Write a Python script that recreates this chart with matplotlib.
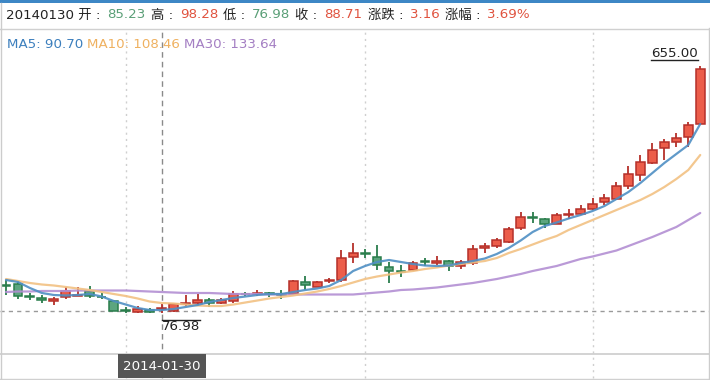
import matplotlib
matplotlib.use('Agg')
import matplotlib.pyplot as plt
from matplotlib.lines import Line2D
from matplotlib.patches import Rectangle
import numpy as np

plt.rcParams['font.family'] = ['DejaVu Sans', 'Noto Sans CJK SC']

# ---------------- data ----------------
opens = [143.67, 146.01, 116.76, 112.08, 105.06, 114.42, 117.93, 128.46, 115.59, 106.23,
         85.17, 80.49, 85.17, 85.23, 81.66, 98.04, 101.55, 108.57, 101.55, 106.23,
         122.61, 121.44, 124.95, 121.44, 121.44, 149.52, 138.99, 151.86, 154.20, 209.19,
         217.38, 209.19, 185.79, 175.26, 178.77, 197.96, 195.15, 199.83, 186.96, 193.98,
         230.25, 233.76, 244.29, 277.05, 302.79, 298.11, 286.41, 307.47, 309.81, 321.51,
         337.89, 344.91, 374.16, 399.90, 429.15, 464.25, 478.29, 488.82, 520.41]
closes = [141.33, 116.76, 114.42, 108.57, 109.74, 128.46, 120.27, 116.76, 114.42, 82.83,
          82.83, 87.51, 79.32, 88.71, 98.04, 101.55, 108.57, 101.55, 107.40, 122.61,
          121.44, 124.95, 121.44, 120.27, 151.86, 142.50, 149.52, 155.37, 205.68, 218.55,
          215.04, 189.30, 176.43, 172.92, 195.15, 196.32, 199.83, 186.96, 197.49, 227.91,
          233.76, 247.80, 273.54, 302.79, 300.45, 286.41, 306.30, 309.81, 321.51, 332.04,
          344.91, 375.33, 402.24, 431.49, 459.57, 478.29, 486.48, 515.73, 647.94]
highs = [154.20, 151.86, 123.78, 119.10, 114.42, 137.82, 137.82, 140.16, 123.78, 107.40,
         91.02, 93.36, 88.68, 98.28, 99.21, 119.10, 122.61, 112.08, 112.08, 128.46,
         127.29, 130.80, 126.12, 130.80, 155.37, 163.56, 153.03, 158.88, 224.40, 241.95,
         227.91, 236.10, 197.49, 189.30, 199.83, 205.68, 210.36, 202.17, 202.17, 236.10,
         241.95, 252.48, 279.39, 314.49, 313.32, 300.45, 312.15, 320.34, 329.70, 346.08,
         355.44, 384.69, 420.96, 446.70, 475.48, 484.14, 499.35, 523.92, 655.00]
lows = [119.10, 109.74, 107.40, 100.38, 95.70, 109.74, 116.76, 112.08, 110.91, 81.66,
        78.15, 78.15, 77.90, 76.98, 79.32, 93.36, 95.70, 91.02, 98.04, 100.38,
        116.76, 116.76, 114.42, 109.74, 119.10, 130.80, 137.82, 147.18, 149.52, 193.98,
        205.68, 177.60, 147.18, 162.39, 176.43, 186.96, 189.30, 176.43, 179.94, 189.30,
        218.55, 229.08, 240.78, 272.37, 288.75, 275.88, 285.24, 296.94, 306.30, 318.00,
        329.70, 341.40, 367.14, 387.03, 426.81, 435.00, 465.42, 465.42, 518.00]

ma5 = [154.20, 149.52, 135.48, 123.78, 119.10, 117.93, 119.10, 121.44, 115.59, 105.06,
       96.87, 88.68, 84.00, 84.00, 86.34, 91.02, 95.70, 102.72, 107.40, 112.08,
       115.59, 119.10, 121.44, 121.44, 126.12, 130.80, 134.31, 140.16, 154.20, 175.26,
       186.96, 196.32, 201.00, 196.32, 191.64, 188.13, 186.96, 188.13, 193.98, 198.66,
       204.51, 215.04, 229.08, 246.63, 266.52, 280.56, 288.75, 298.11, 306.30, 315.66,
       327.36, 343.74, 360.12, 381.18, 404.58, 427.98, 449.04, 470.10, 519.24]
ma10 = [156.54, 151.86, 147.18, 143.67, 141.33, 137.82, 134.31, 130.80, 126.12, 121.44,
        116.76, 110.91, 103.89, 100.38, 99.21, 96.87, 94.53, 93.36, 93.36, 96.87,
        101.55, 106.23, 110.91, 114.42, 117.93, 122.61, 127.29, 133.14, 140.16, 148.35,
        156.54, 162.39, 167.07, 171.75, 175.26, 179.94, 183.45, 188.13, 191.64, 195.15,
        198.66, 205.68, 217.38, 226.74, 237.27, 247.80, 257.16, 271.20, 282.90, 294.60,
        306.30, 318.00, 329.70, 341.40, 355.44, 371.82, 390.54, 411.60, 446.70]
ma30 = [126.12, 127.29, 127.29, 128.46, 128.46, 128.46, 129.63, 129.63, 129.63, 129.63,
        129.63, 128.46, 127.29, 126.12, 124.95, 123.78, 123.78, 123.78, 122.61, 121.44,
        121.44, 121.44, 120.27, 120.27, 120.27, 120.27, 120.27, 120.27, 120.27, 120.27,
        122.61, 124.95, 127.29, 130.80, 131.97, 134.31, 136.65, 140.16, 143.67, 147.18,
        151.86, 156.54, 162.39, 168.24, 175.26, 181.11, 186.96, 195.15, 203.34, 209.19,
        216.21, 223.23, 233.76, 244.29, 254.82, 266.52, 278.22, 294.60, 310.98]

cross_index = 13
cross_date = '2014-01-30'
cross_label = '20140130'
cross_level = 81.7
change = 3.16
change_pct = 3.69
legend_names = ['MA5', 'MA10', 'MA30']
legend_values = [90.70, 108.46, 133.64]
grid_indices = [10, 30, 49]

# ---------------- style ----------------
RED_F, RED_E = '#ec5d4a', '#b5302a'
GRN_F, GRN_E = '#5ca57f', '#2a7d4c'
MA_COLORS = ['#4f8fc4', '#f2c183', '#b38fd3']
LEG_COLORS = ['#3c7fbd', '#efb160', '#a47fc3']
TXT_RED, TXT_GRN = '#e0533f', '#5a9f77'
FS = 9.6

W, H = 710, 380
fig = plt.figure(figsize=(W / 100, H / 100), dpi=100)
fig.patch.set_facecolor('white')

def fx(px):
    return px / W

def fy(py):
    return 1 - py / H

TOP, BOT = 28, 354
ax = fig.add_axes([0, fy(BOT), fx(709), (BOT - TOP) / H])
ax.axis('off')
n = len(opens)
x = np.arange(n)
band = 11.97
ax.set_xlim(-0.5, -0.5 + 709 / band)
ax.set_ylim(-18.96, 743.88)

# grid (dotted vertical)
ext = -(378 - BOT) / (BOT - TOP)
for gi in grid_indices:
    ax.axvline(gi, ymin=ext, ymax=1, color='#cfcfcf', lw=1, ls=(0, (1.5, 3)), clip_on=False, zorder=0)

# candles
o = np.array(opens); c = np.array(closes); hi = np.array(highs); lo = np.array(lows)
up = c >= o
faces = [RED_F if u else GRN_F for u in up]
edges = [RED_E if u else GRN_E for u in up]
ax.vlines(x, lo, hi, colors=edges, lw=1.3, zorder=2)
ax.bar(x, np.abs(c - o), bottom=np.minimum(o, c), width=0.74, color=faces,
       edgecolor=edges, linewidth=1.1, zorder=3)

# MA lines
for vals, col in zip([ma30, ma10, ma5], [MA_COLORS[2], MA_COLORS[1], MA_COLORS[0]]):
    ax.plot(x, vals, color=col, lw=1.6, alpha=0.9, zorder=4, solid_capstyle='round')

# crosshair
ax.axhline(cross_level, color='#9a9a9a', lw=1, ls=(0, (3, 3)), zorder=1)
ax.axvline(cross_index, ymin=ext, ymax=1, color='#8a8a8a', lw=1, ls=(0, (4, 3)),
           clip_on=False, zorder=1)

fig.canvas.draw()
r = fig.canvas.get_renderer()

# max / min labels
imax = int(np.argmax(hi)); imin = int(np.argmin(lo))
tmax = ax.annotate(f'{hi[imax]:.2f}', xy=(imax, hi[imax]), xytext=(-2, 6),
                   textcoords='offset pixels', ha='right', va='bottom', fontsize=FS,
                   color='#222222', zorder=6)
tmin = ax.annotate(f'{lo[imin]:.2f}', xy=(imin, lo[imin]), xytext=(0, -7),
                   textcoords='offset pixels', ha='left', va='top', fontsize=FS,
                   color='#222222', zorder=6)
fig.canvas.draw()
bb = tmax.get_window_extent(r)
fig.add_artist(Line2D([bb.x0 / W, bb.x1 / W], [(bb.y0 - 0.5) / H] * 2, color='#222', lw=1))
bb = tmin.get_window_extent(r)
fig.add_artist(Line2D([bb.x0 / W, bb.x1 / W], [(bb.y1 + 0.5) / H] * 2, color='#222', lw=1))

# frame lines
fig.add_artist(Rectangle((0, fy(3)), 1, 3 / H, color='#3d87c5', lw=0))
fig.add_artist(Line2D([0, 1], [fy(28.5)] * 2, color='#d0d0d0', lw=1))
fig.add_artist(Line2D([0, 1], [fy(354)] * 2, color='#cccccc', lw=1.2))
fig.add_artist(Line2D([0, 1], [fy(378.5)] * 2, color='#d0d0d0', lw=1))
fig.add_artist(Line2D([fx(0.5)] * 2, [fy(3), fy(380)], color='#cccccc', lw=1))
fig.add_artist(Line2D([fx(709)] * 2, [fy(28), fy(380)], color='#cccccc', lw=1))

# date label at crosshair
cx = ax.transData.transform((cross_index, 0))[0]
fig.add_artist(Rectangle((fx(cx - 44), fy(378)), 88 / W, 24 / H, color='#555555', lw=0, zorder=5))
fig.text(fx(cx), fy(366), cross_date, color='white', fontsize=FS, ha='center', va='center', zorder=6)

# header
def chain(parts, x0, ypx, size):
    xp = x0
    for s, col, gap in parts:
        t = fig.text(fx(xp), fy(ypx), s, color=col, fontsize=size, ha='left', va='center')
        b = t.get_window_extent(r)
        xp = b.x1 + gap

ci = cross_index
BLK = '#222222'
chain([(cross_label + ' 开 :', BLK, 7), (f'{opens[ci]:.2f}', TXT_GRN, 5),
       ('高 :', BLK, 7), (f'{highs[ci]:.2f}', TXT_RED, 5),
       ('低 :', BLK, 7), (f'{lows[ci]:.2f}', TXT_GRN, 5),
       ('收 :', BLK, 7), (f'{closes[ci]:.2f}', TXT_RED, 5),
       ('涨跌 :', BLK, 7), (f'{change:.2f}', TXT_RED, 5),
       ('涨幅 :', BLK, 7), (f'{change_pct:.2f}%', TXT_RED, 0)], 6, 15, FS)

chain([(f'{nm}: {v:.2f}', col, 4) for nm, v, col in zip(legend_names, legend_values, LEG_COLORS)],
      7, 44, FS)

fig.savefig('out.png', dpi=100, facecolor='white')
